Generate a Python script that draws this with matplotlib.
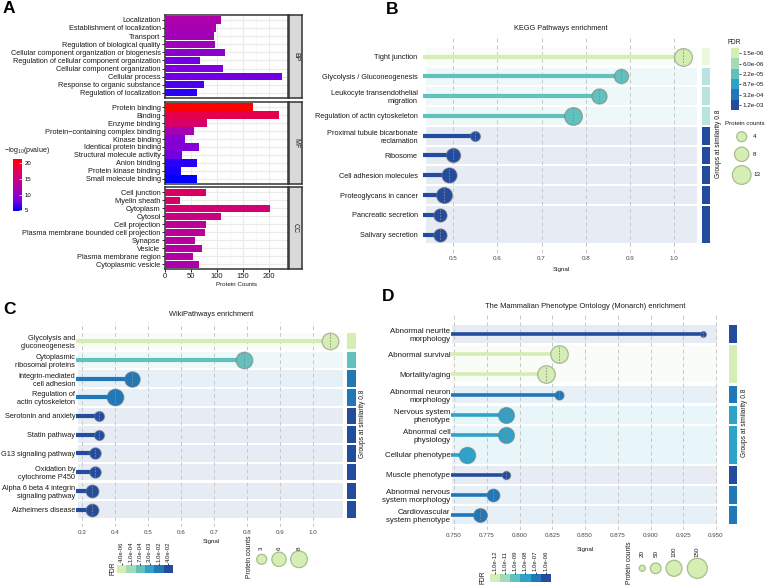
import numpy as np
import matplotlib
matplotlib.use('Agg')
import matplotlib.pyplot as plt
from matplotlib.colors import LinearSegmentedColormap, ListedColormap, to_rgb
from matplotlib.patches import Rectangle

# ---------------- panel A data (GO terms)
bp_terms = ['Localization', 'Establishment of localization', 'Transport',
            'Regulation of biological quality',
            'Cellular component organization or biogenesis',
            'Regulation of cellular component organization',
            'Cellular component organization', 'Cellular process',
            'Response to organic substance', 'Regulation of localization']
bp_counts = [108, 98, 95, 96, 115, 68, 111, 226, 76, 62]
bp_logp = [12.0, 11.5, 11.2, 11.0, 9.5, 8.0, 8.5, 8.0, 7.0, 6.0]

mf_terms = ['Protein binding', 'Binding', 'Enzyme binding',
            'Protein\u2212containing complex binding', 'Kinase binding',
            'Identical protein binding', 'Structural molecule activity',
            'Anion binding', 'Protein kinase binding', 'Small molecule binding']
mf_counts = [169, 220, 81, 56, 38, 66, 33, 62, 31, 62]
mf_logp = [21.2, 18.0, 16.5, 11.5, 9.0, 9.0, 8.0, 6.0, 5.5, 4.9]

cc_terms = ['Cell junction', 'Myelin sheath', 'Cytoplasm', 'Cytosol',
            'Cell projection', 'Plasma membrane bounded cell projection',
            'Synapse', 'Vesicle', 'Plasma membrane region', 'Cytoplasmic vesicle']
cc_counts = [79, 29, 202, 108, 79, 77, 58, 71, 54, 66]
cc_logp = [17.0, 16.5, 16.0, 15.0, 13.5, 13.5, 13.0, 12.8, 12.5, 12.0]

# ---------------- panel B data (KEGG)
kegg_terms = ['Tight junction', 'Glycolysis / Gluconeogenesis',
              'Leukocyte transendothelial\nmigration',
              'Regulation of actin cytoskeleton',
              'Proximal tubule bicarbonate\nreclamation', 'Ribosome',
              'Cell adhesion molecules', 'Proteoglycans in cancer',
              'Pancreatic secretion', 'Salivary secretion']
kegg_signal = [1.02, 0.88, 0.83, 0.77, 0.55, 0.50, 0.49, 0.48, 0.47, 0.47]
kegg_counts = [12, 8, 9, 12, 4, 8, 9, 10, 7, 7]
kegg_fdr = [0, 2, 2, 2, 5, 5, 5, 5, 5, 5]
kegg_groups = [1, 2, 3, 4, 5, 6, 7, 8, 9, 9]
kegg_fdr_labels = ['1.5e-06', '6.0e-06', '2.2e-05', '8.7e-05', '3.2e-04', '1.2e-03']
kegg_size_labels = [4, 8, 13]

# ---------------- panel C data (WikiPathways)
wiki_terms = ['Glycolysis and\ngluconeogenesis', 'Cytoplasmic\nribosomal proteins',
              'Integrin-mediated\ncell adhesion', 'Regulation of\nactin cytoskeleton',
              'Serotonin and anxiety', 'Statin pathway', 'G13 signaling pathway',
              'Oxidation by\ncytochrome P450',
              'Alpha 6 beta 4 integrin\nsignaling pathway', 'Alzheimers disease']
wiki_signal = [1.05, 0.79, 0.45, 0.40, 0.35, 0.35, 0.34, 0.34, 0.33, 0.33]
wiki_counts = [8, 8, 7, 8, 3, 3, 4, 4, 5, 5]
wiki_fdr = [0, 2, 4, 4, 5, 5, 5, 5, 5, 5]
wiki_groups = [1, 2, 3, 4, 5, 6, 7, 8, 9, 10]
wiki_fdr_labels = ['4.0e-06', '1.0e-04', '7.0e-04', '3.0e-03', '1.0e-02', '4.0e-02']
wiki_size_labels = [3, 6, 8]

# ---------------- panel D data (Mammalian Phenotype)
mp_terms = ['Abnormal neurite\nmorphology', 'Abnormal survival', 'Mortality/aging',
            'Abnormal neuron\nmorphology', 'Nervous system\nphenotype',
            'Abnormal cell\nphysiology', 'Cellular phenotype', 'Muscle phenotype',
            'Abnormal nervous\nsystem morphology', 'Cardiovascular\nsystem phenotype']
mp_signal = [0.94, 0.83, 0.82, 0.83, 0.79, 0.79, 0.76, 0.79, 0.78, 0.77]
mp_counts = [18, 120, 120, 40, 100, 100, 105, 35, 70, 80]
mp_fdr = [5, 0, 0, 4, 3, 3, 3, 5, 4, 4]
mp_groups = [1, 2, 2, 3, 4, 5, 5, 6, 7, 8]
mp_fdr_labels = ['1.0e-12', '1.0e-11', '1.0e-09', '1.0e-08', '1.0e-07', '1.0e-06']
mp_size_labels = [20, 50, 100, 150]

W, H = 766, 585
plt.rcParams['font.family'] = ['Liberation Sans', 'DejaVu Sans']
plt.rcParams['mathtext.fontset'] = 'custom'
plt.rcParams['mathtext.rm'] = 'Liberation Sans'
plt.rcParams['mathtext.it'] = 'Liberation Sans:italic'

fdr_pal = ['#d5eeb3', '#a3dab8', '#62c1bd', '#2fa2c7', '#2178b8', '#234c9f']
TXT = '#1a1a1a'

fig = plt.figure(figsize=(W / 100, H / 100), dpi=100)


def px_axes(left, top, right, bottom):
    return fig.add_axes([left / W, 1 - bottom / H, (right - left) / W, (bottom - top) / H])


def ftext(x, y, s, **kw):
    fig.text(x / W, 1 - y / H, s, **kw)


def blend(color, alpha):
    r, g, b = to_rgb(color)
    return (1 - alpha * (1 - r), 1 - alpha * (1 - g), 1 - alpha * (1 - b))


# ================= panel A
cmap_a = LinearSegmentedColormap.from_list(
    'bluered', [(0, '#0000FF'), (0.2, '#7A00E0'), (0.45, '#B000A8'),
                (0.72, '#D8006A'), (1, '#FF0000')])
norm_a = plt.Normalize(4.9, 21.2)

facets = [('BP', bp_terms, bp_counts, bp_logp, 15, 97.7),
          ('MF', mf_terms, mf_counts, mf_logp, 102.3, 183.7),
          ('CC', cc_terms, cc_counts, cc_logp, 187.3, 269.3)]
for k, (name, terms, counts, logp, top, bot) in enumerate(facets):
    ax = px_axes(164.7, top, 287.7, bot)
    y = np.arange(len(terms))
    ax.barh(y, counts, height=0.9, color=cmap_a(norm_a(logp)), zorder=3)
    ax.set_xlim(0, 236)
    ax.set_ylim(len(terms) - 0.4, -0.6)
    ax.set_yticks(y)
    ax.set_yticklabels(terms, fontsize=5.3, color=TXT)
    ax.set_xticks(range(0, 201, 50))
    ax.set_xticks(range(25, 226, 50), minor=True)
    ax.grid(which='major', color='#EBEBEB', lw=0.8)
    ax.grid(which='minor', axis='x', color='#F4F4F4', lw=0.5)
    ax.set_axisbelow(True)
    for s in ax.spines.values():
        s.set_color('#333333')
        s.set_linewidth(1.1)
    ax.tick_params(axis='y', length=2, width=0.6, pad=1)
    ax.tick_params(which='minor', length=0)
    if k < 2:
        ax.tick_params(axis='x', bottom=False, labelbottom=False)
    else:
        ax.tick_params(axis='x', length=2, width=0.6, pad=1, labelsize=5.5, labelcolor=TXT)
    sax = px_axes(289, top, 302, bot)
    sax.set_facecolor('#D9D9D9')
    sax.set_xticks([])
    sax.set_yticks([])
    for s in sax.spines.values():
        s.set_color('#333333')
        s.set_linewidth(1.1)
    sax.text(0.5, 0.5, name, rotation=-90, ha='center', va='center',
             fontsize=5, color=TXT, transform=sax.transAxes)

ftext(237, 285, 'Protein Counts', fontsize=4.5, ha='center', va='center', color=TXT)

cax = px_axes(12.7, 159, 22, 210.7)
sm = plt.cm.ScalarMappable(norm=norm_a, cmap=cmap_a)
cb = fig.colorbar(sm, cax=cax, ticks=[5, 10, 15, 20])
cb.outline.set_visible(False)
cax.tick_params(labelsize=4.3, length=2, width=0.5, color='white', direction='in', pad=2)
ftext(4, 151, r'$-$log$_{10}$(pvalue)', fontsize=5, va='center', color=TXT)


# ================= lollipop panels
def lollipop(axes_box, band_box, band_left, strip_x, xlim, ticks, ticklabs, terms, signal,
             counts, levels, groups, strip_alpha, size_counts, size_px, line_w, lab_pad,
             lab_size=5.3):
    left, top, right, bottom = axes_box
    btop, bbot = band_box
    ax = px_axes(left, top, right, bottom)
    n = len(terms)
    row_px = (bbot - btop) / n
    ylo = -0.5 - (btop - top) / row_px
    yhi = n - 0.5 + (bottom - bbot) / row_px
    ax.set_xlim(*xlim)
    ax.set_ylim(yhi, ylo)
    bx0 = xlim[0] + (band_left - left) * (xlim[1] - xlim[0]) / (right - left)
    gap = 2.2 / row_px
    y = np.arange(n)

    sax = px_axes(strip_x[0], btop, strip_x[1], bbot)
    sax.set_xlim(0, 1)
    sax.set_ylim(n - 0.5, -0.5)
    sax.axis('off')

    start = 0
    for i in range(1, n + 1):
        if i == n or groups[i] != groups[start]:
            c = fdr_pal[levels[start]]
            ax.add_patch(Rectangle((bx0, start - 0.5 + gap / 2), xlim[1] - bx0,
                                   i - start - gap, color=blend(c, 0.11), lw=0, zorder=0))
            sax.add_patch(Rectangle((0, start - 0.5 + gap / 2), 1, i - start - gap,
                                    color=blend(c, strip_alpha[start]), lw=0))
            start = i

    for t in ticks:
        ax.axvline(t, color='#C8C8C8', lw=0.7, ls=(0, (4, 3)), zorder=1)

    diam = np.interp(counts, size_counts, size_px)
    for yi, s, lev, d in zip(y, signal, levels, diam):
        c = fdr_pal[lev]
        ax.plot([xlim[0], s], [yi, yi], color=c, lw=line_w, solid_capstyle='butt', zorder=2)
        ax.scatter([s], [yi], s=(d * 0.72) ** 2, color=c,
                   edgecolor=(0.45, 0.45, 0.45, 0.5), lw=0.9, zorder=3)
        h = 0.42 * d / row_px
        ax.plot([s, s], [yi - h, yi + h], color='#8A8A8A', lw=0.6,
                ls=(0, (2, 1.5)), zorder=4)

    for s in ax.spines.values():
        s.set_visible(False)
    ax.set_yticks(y)
    ax.set_yticklabels(terms, fontsize=lab_size, color=TXT)
    ax.set_xticks(ticks)
    ax.set_xticklabels(ticklabs, fontsize=4.5, color='#444444')
    ax.tick_params(axis='both', length=0, pad=2.5)
    ax.tick_params(axis='y', pad=lab_pad)
    return ax


overlay = fig.add_axes([0, 0, 1, 1])
overlay.set_xlim(0, W)
overlay.set_ylim(H, 0)
overlay.axis('off')
overlay.set_facecolor('none')

# ---- B
b_ticks = [0.5, 0.6, 0.7, 0.8, 0.9, 1.0]
lollipop((423.3, 35, 697, 253), (46.7, 244.5), 425.7, (701.7, 710), (0.432, 1.052),
         b_ticks, ['0.5', '0.6', '0.7', '0.8', '0.9', '1.0'],
         kegg_terms, kegg_signal, kegg_counts, kegg_fdr, kegg_groups,
         [0.45] * 4 + [1] * 6, [4, 8, 13], [10, 14.3, 18.7], 3.0, 4.0)
ftext(561, 28.5, 'KEGG Pathways enrichment', fontsize=5.3, ha='center', va='center', color=TXT)
ftext(561, 270, 'Signal', fontsize=4.5, ha='center', va='center', color=TXT)
ftext(718, 144, 'Groups at similarity 0.8', fontsize=4.8, rotation=90,
      ha='center', va='center', color=TXT)

cax = px_axes(731, 48.3, 739, 110)
cax.imshow(np.arange(6)[:, None], cmap=ListedColormap(fdr_pal), aspect='auto')
cax.set_xticks([])
cax.yaxis.tick_right()
cax.set_yticks(range(6))
cax.set_yticklabels(kegg_fdr_labels, fontsize=4.5, color=TXT)
cax.tick_params(axis='y', length=1.5, width=0.5, pad=1)
for s in cax.spines.values():
    s.set_visible(False)
ftext(728, 42.7, 'FDR', fontsize=4.8, va='center', color=TXT)
ftext(725, 123.3, 'Protein counts', fontsize=4.5, va='center', color=TXT)
d_b = np.interp(kegg_size_labels, [4, 8, 13], [10, 14.3, 18.7])
overlay.scatter([741.7] * 3, [136.7, 154.3, 175], s=(d_b * 0.72) ** 2,
                color=fdr_pal[0], edgecolor='#A6BF8C', lw=0.9, clip_on=False)
for yy, lab in zip([136.7, 154.3, 175], kegg_size_labels):
    overlay.text(753, yy, str(lab), fontsize=4.5, va='center', color=TXT)

# ---- C
c_ticks = [0.3, 0.4, 0.5, 0.6, 0.7, 0.8, 0.9, 1.0]
lollipop((76, 322, 343, 527), (331.7, 519), 77.7, (347, 356), (0.281, 1.09),
         c_ticks, ['0.3', '0.4', '0.5', '0.6', '0.7', '0.8', '0.9', '1.0'],
         wiki_terms, wiki_signal, wiki_counts, wiki_fdr, wiki_groups,
         [1] * 10, [3, 6, 8], [10, 14.3, 16.7], 3.0, 0.5)
ftext(211, 315, 'WikiPathways enrichment', fontsize=5.3, ha='center', va='center', color=TXT)
ftext(211, 542, 'Signal', fontsize=4.5, ha='center', va='center', color=TXT)
ftext(363, 424, 'Groups at similarity 0.8', fontsize=4.8, rotation=90,
      ha='center', va='center', color=TXT)

cax = px_axes(117, 565, 173, 572.7)
cax.imshow(np.arange(6)[None, :], cmap=ListedColormap(fdr_pal), aspect='auto')
cax.set_yticks([])
cax.xaxis.tick_top()
cax.set_xticks(range(6))
cax.set_xticklabels(wiki_fdr_labels, fontsize=4.3, rotation=90, color=TXT)
cax.tick_params(axis='x', length=1.5, width=0.5, pad=1)
for s in cax.spines.values():
    s.set_visible(False)
ftext(113, 568, 'FDR', fontsize=4.8, rotation=90, ha='center', va='center', color=TXT)
ftext(249.5, 556.7, 'Protein counts', fontsize=4.8, rotation=90, ha='center', va='center', color=TXT)
c_x = [261.7, 279, 299]
d_c = np.interp(wiki_size_labels, [3, 6, 8], [10, 14.3, 16.7])
overlay.scatter(c_x, [559.3] * 3, s=(d_c * 0.72) ** 2,
                color=fdr_pal[0], edgecolor='#A6BF8C', lw=0.9, clip_on=False)
for xx, lab in zip(c_x, wiki_size_labels):
    overlay.text(xx, 550, str(lab), fontsize=4.5, rotation=90, ha='center', va='bottom', color=TXT)

# ---- D
d_ticks = [0.75, 0.775, 0.8, 0.825, 0.85, 0.875, 0.9, 0.925, 0.95]
lollipop((451, 315, 716.7, 530), (324.3, 525), 451.7, (729, 737), (0.7477, 0.9505),
         d_ticks, ['0.750', '0.775', '0.800', '0.825', '0.850', '0.875', '0.900', '0.925', '0.950'],
         mp_terms, mp_signal, mp_counts, mp_fdr, mp_groups,
         [1] * 10, [20, 50, 100, 150], [6, 10.7, 16, 20], 2.6, 0.5, lab_size=5.7)
ftext(585, 306.7, 'The Mammalian Phenotype Ontology (Monarch) enrichment', fontsize=5.4,
      ha='center', va='center', color=TXT)
ftext(585, 549, 'Signal', fontsize=4.5, ha='center', va='center', color=TXT)
ftext(745, 423, 'Groups at similarity 0.8', fontsize=4.8, rotation=90,
      ha='center', va='center', color=TXT)

cax = px_axes(490, 574, 550.7, 581.7)
cax.imshow(np.arange(6)[None, :], cmap=ListedColormap(fdr_pal), aspect='auto')
cax.set_yticks([])
cax.xaxis.tick_top()
cax.set_xticks(range(6))
cax.set_xticklabels(mp_fdr_labels, fontsize=4.3, rotation=90, color=TXT)
cax.tick_params(axis='x', length=1.5, width=0.5, pad=1)
for s in cax.spines.values():
    s.set_visible(False)
ftext(483.3, 577, 'FDR', fontsize=4.8, rotation=90, ha='center', va='center', color=TXT)
ftext(629.5, 563, 'Protein counts', fontsize=4.8, rotation=90, ha='center', va='center', color=TXT)
d_x = [642.3, 655.7, 674, 697.3]
d_d = np.interp(mp_size_labels, [20, 50, 100, 150], [6, 10.7, 16, 20])
overlay.scatter(d_x, [568.3] * 4, s=(d_d * 0.72) ** 2,
                color=fdr_pal[0], edgecolor='#A6BF8C', lw=0.9, clip_on=False)
for xx, lab in zip(d_x, mp_size_labels):
    overlay.text(xx, 557, str(lab), fontsize=4.5, rotation=90, ha='center', va='bottom', color=TXT)

# panel letters
for lab, x, y in [('A', 3, 1), ('B', 386, 2), ('C', 3, 302), ('D', 382, 289)]:
    ftext(x, y, lab, fontsize=12.5, fontweight='bold', va='top', ha='left', color='black')

fig.savefig('out.png', dpi=100)
